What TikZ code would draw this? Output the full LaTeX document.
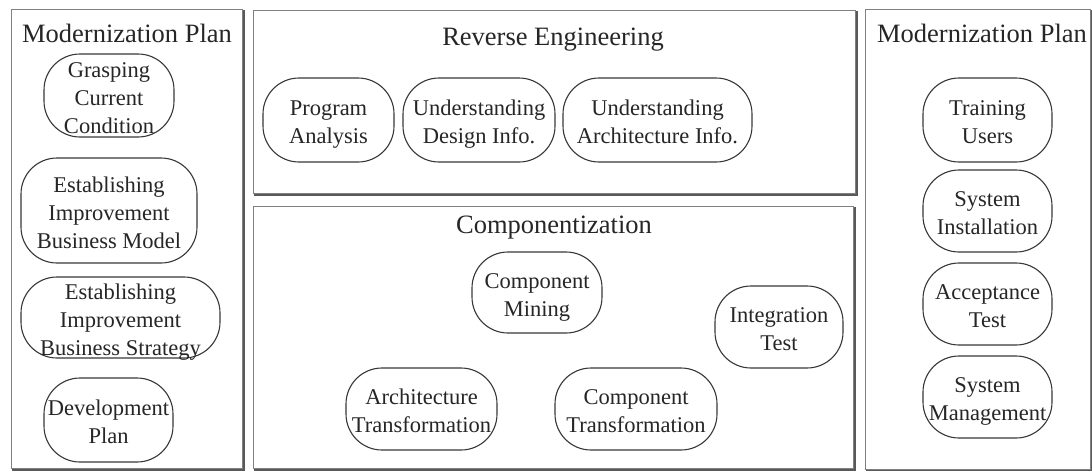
\documentclass[tikz,border=0pt]{standalone}
\usepackage{fontspec}
\setmainfont{Liberation Serif}
\usetikzlibrary{positioning}

% multi-line text that does not widen or heighten its node
\newcommand\celltext[1]{\makebox[0pt]{\smash{\raisebox{-0.42em}{\begin{tabular}{@{}c@{}}#1\end{tabular}}}}}

\tikzset{
  panel/.style={draw=black!50, line width=1pt, fill=white},
  panelshadow/.style={draw=black!65, line width=1.6pt},
  title/.style={font=\fontsize{26.5}{30}\selectfont, text=black!85, inner sep=0pt},
  pill/.style 2 args={draw=black!78, line width=1.1pt, rounded corners=36pt,
    inner sep=0pt, minimum width=#1pt, minimum height=#2pt,
    font=\fontsize{22.5}{28}\selectfont, text=black!85},
}

\begin{document}
\begin{tikzpicture}[x=1pt, y=-1pt]
\useasboundingbox (0,0) rectangle (1092,471);
\fill[white] (0,0) rectangle (1092,471);

% panels with a slight shadow on the right and bottom
\draw[panelshadow] (13,11) rectangle (244,470);
\draw[panel] (11,9) rectangle (242,468);
\draw[panelshadow] (255,12) rectangle (857,195);
\draw[panel] (253,10) rectangle (855,193);
\draw[panelshadow] (255,208) rectangle (855,470);
\draw[panel] (253,206) rectangle (853,468);
\draw[panelshadow] (867,11) rectangle (1092,471);
\draw[panel] (865,9) rectangle (1090,469);

% panel titles
\node[title] (tl) at (127,33) {Modernization Plan};
\node[title] (tre) at (553,40) {Reverse Engineering};
\node[title] (tco) at (554,228) {Componentization};
\node[title] (tr) at (982,33) {Modernization Plan};

% left column
\node[pill={130}{83}] (gcc) at (109,95.5) {\celltext{Grasping\\Current\\Condition}};
\node[pill={176}{105}] (ebm) at (109,210.5) {\celltext{Establishing\\Improvement\\Business Model}};
\node[pill={199}{81}] (ebs) at (120.5,317.5) {\celltext{Establishing\\Improvement\\Business Strategy}};
\node[pill={129}{84}] (dp) at (108.5,420) {\celltext{Development\\Plan}};

% reverse engineering
\node[pill={131}{84}] (pa) at (328.5,120) {\celltext{Program\\Analysis}};
\node[pill={152}{84}] (udi) at (479,120) {\celltext{Understanding\\Design Info.}};
\node[pill={189}{84}] (uai) at (657.5,120) {\celltext{Understanding\\Architecture Info.}};

% componentization
\node[pill={130}{81}] (cm) at (537,292.5) {\celltext{Component\\Mining}};
\node[pill={128}{82}] (it) at (779,327) {\celltext{Integration\\Test}};
\node[pill={151}{82}] (at) at (421.5,409) {\celltext{Architecture\\Transformation}};
\node[pill={162}{82}] (ct) at (636,409) {\celltext{Component\\Transformation}};

% right column
\node[pill={129}{84}] (tu) at (987.5,120) {\celltext{Training\\Users}};
\node[pill={129}{82}] (si) at (987.5,211) {\celltext{System\\Installation}};
\node[pill={129}{82}] (ac) at (987.5,304) {\celltext{Acceptance\\Test}};
\node[pill={129}{82}] (sm) at (987.5,397) {\celltext{System\\Management}};
\end{tikzpicture}
\end{document}
